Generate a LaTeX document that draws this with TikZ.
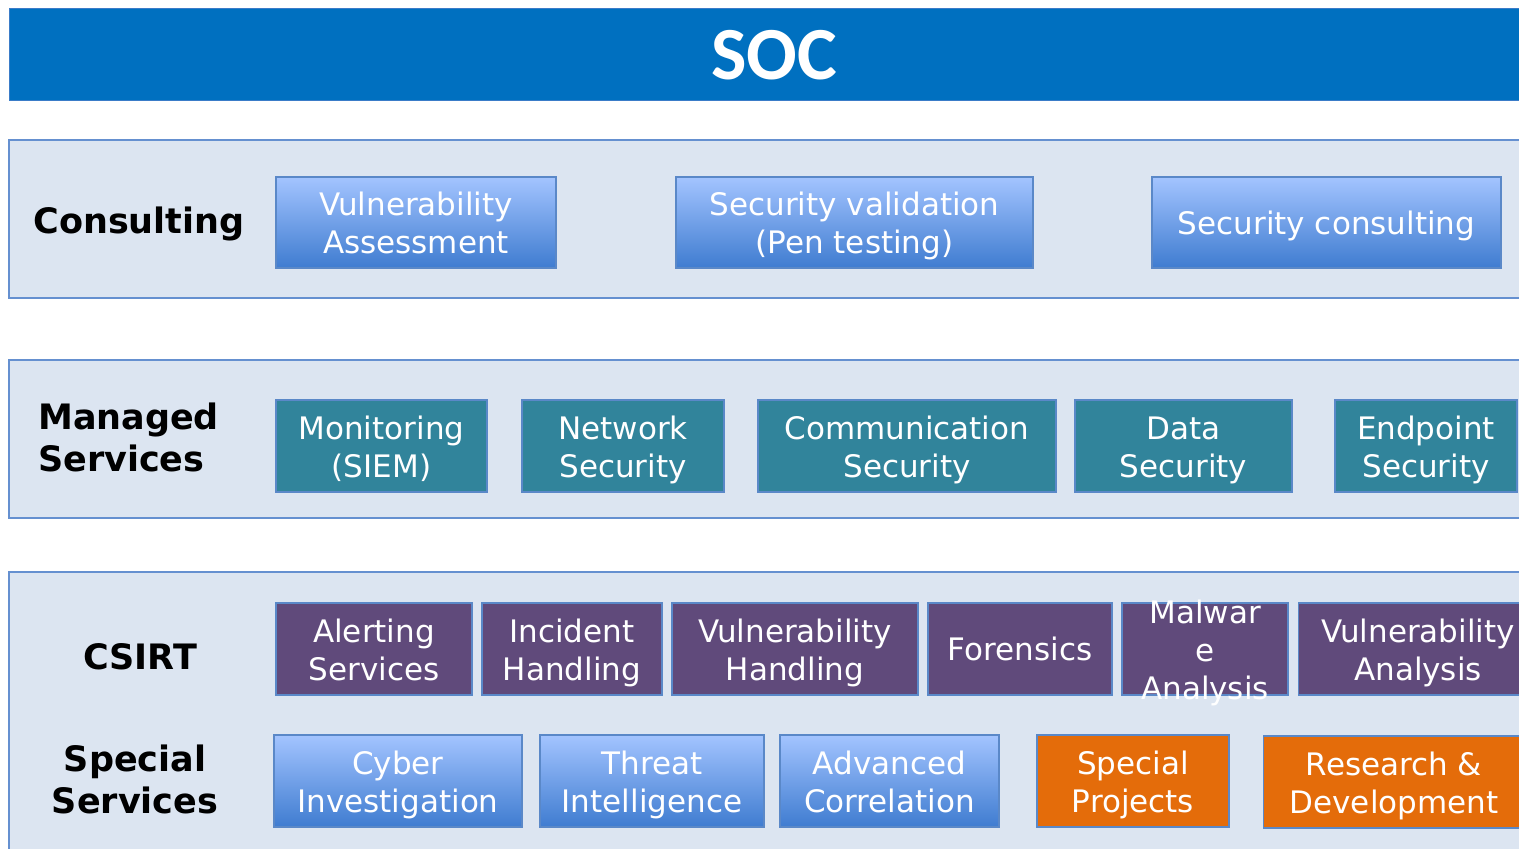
\documentclass[tikz,border=0pt]{standalone}
\usepackage{fontspec}
\setmainfont{DejaVu Sans}
\newfontfamily\titlefont{Carlito}
\definecolor{titleblue}{HTML}{0070C0}
\definecolor{titleline}{HTML}{3A7CC8}
\definecolor{panelfill}{HTML}{DCE5F1}
\definecolor{panelline}{HTML}{6590D0}
\definecolor{boxline}{HTML}{5A88C8}
\definecolor{gtop}{HTML}{A3C4FF}
\definecolor{gbot}{HTML}{3F7CD0}
\definecolor{tealfill}{HTML}{31849B}
\definecolor{purplefill}{HTML}{604A7B}
\definecolor{orangefill}{HTML}{E46C0A}
% text lines placed on fixed baselines relative to a box centre
\newcommand{\oneline}[3]{%
  \node[ltext,anchor=base] (#1-l1) at ([yshift=-11.5pt]#2) {#3};}
\newcommand{\twolines}[4]{%
  \node[ltext,anchor=base] (#1-l1) at ([yshift=7pt]#2) {#3};
  \node[ltext,anchor=base] (#1-l2) at ([yshift=-31pt]#2) {#4};}
\newcommand{\threelines}[5]{%
  \node[ltext,anchor=base] (#1-l1) at ([yshift=26pt]#2) {#3};
  \node[ltext,anchor=base] (#1-l2) at ([yshift=-12pt]#2) {#4};
  \node[ltext,anchor=base] (#1-l3) at ([yshift=-50pt]#2) {#5};}
\begin{document}
\begin{tikzpicture}[x=1pt,y=-1pt,
  panel/.style={fill=panelfill,draw=panelline,line width=1.2pt},
  grouplabel/.style={font=\bfseries\fontsize{35}{42}\selectfont,align=center,inner sep=0},
  box/.style={draw=boxline,line width=1.2pt,inner sep=0,minimum height=92pt},
  bluebox/.style={box,top color=gtop,bottom color=gbot},
  tealbox/.style={box,fill=tealfill},
  purplebox/.style={box,fill=purplefill},
  orangebox/.style={box,fill=orangefill},
  ltext/.style={text=white,inner sep=0,font=\fontsize{31}{38}\selectfont}]
\useasboundingbox (0,0) rectangle (1519,849);
\clip (0,0) rectangle (1519,849);
% title
\node[fill=titleblue,draw=titleline,line width=1.2pt,minimum width=1530pt,minimum height=92pt,anchor=north west,inner sep=0] (title) at (9,8) {};
\node[text=white,font=\titlefont\bfseries\fontsize{75}{75}\selectfont,inner sep=0] (soc) at (774,55) {SOC};
% panels
\draw[panel] (9,140) rectangle (1540,298);
\draw[panel] (9,360) rectangle (1540,518);
\draw[panel] (9,572) rectangle (1540,880);
% group labels
\node[grouplabel] (lcons) at (139,224) {Consulting};
\node[grouplabel,align=left,anchor=west] (lman) at (38,437.5) {Managed\\Services};
\node[grouplabel] (lcsirt) at (140,657) {CSIRT};
\node[grouplabel] (lspec) at (135,779) {Special\\Services};
% consulting
\node[bluebox,minimum width=280pt,minimum height=91pt] (va) at (416,222.5) {};
\node[bluebox,minimum width=357pt,minimum height=91pt] (sv) at (854.5,222.5) {};
\node[bluebox,minimum width=349pt,minimum height=91pt] (sc) at (1326.5,222.5) {};
\twolines{va}{va.center}{Vulnerability}{Assessment}
\twolines{sv}{sv.center}{Security validation}{(Pen testing)}
\oneline{sc}{sc.center}{Security consulting}
% managed services
\node[tealbox,minimum width=211pt] (mon) at (381.5,446) {};
\node[tealbox,minimum width=202pt] (net) at (623,446) {};
\node[tealbox,minimum width=298pt] (comm) at (907,446) {};
\node[tealbox,minimum width=217pt] (data) at (1183.5,446) {};
\node[tealbox,minimum width=182pt] (endp) at (1426,446) {};
\twolines{mon}{mon.center}{Monitoring}{(SIEM)}
\twolines{net}{net.center}{Network}{Security}
\twolines{comm}{comm.center}{Communication}{Security}
\twolines{data}{data.center}{Data}{Security}
\twolines{endp}{endp.center}{Endpoint}{Security}
% CSIRT
\node[purplebox,minimum width=196pt] (alert) at (374,649) {};
\node[purplebox,minimum width=180pt] (inc) at (572,649) {};
\node[purplebox,minimum width=246pt] (vh) at (795,649) {};
\node[purplebox,minimum width=184pt] (for) at (1020,649) {};
\node[purplebox,minimum width=166pt] (mal) at (1205,649) {};
\node[purplebox,minimum width=250pt,anchor=west] (van) at (1298,649) {};
\coordinate (vanc) at (1418,649);
\twolines{alert}{alert.center}{Alerting}{Services}
\twolines{inc}{inc.center}{Incident}{Handling}
\twolines{vh}{vh.center}{Vulnerability}{Handling}
\oneline{for}{for.center}{Forensics}
\threelines{mal}{mal.center}{Malwar}{e}{Analysis}
\twolines{van}{vanc}{Vulnerability}{Analysis}
% special services
\node[bluebox,minimum width=248pt] (cyber) at (398,781) {};
\node[bluebox,minimum width=224pt] (threat) at (652,781) {};
\node[bluebox,minimum width=219pt] (adv) at (889.5,781) {};
\node[orangebox,minimum width=192pt] (sp) at (1133,781) {};
\node[orangebox,minimum width=280pt,anchor=west] (rd) at (1263,782) {};
\coordinate (rdc) at (1394,782);
\twolines{cyber}{cyber.center}{Cyber}{Investigation}
\twolines{threat}{threat.center}{Threat}{Intelligence}
\twolines{adv}{adv.center}{Advanced}{Correlation}
\twolines{sp}{sp.center}{Special}{Projects}
\twolines{rd}{rdc}{Research \&}{Development}
\end{tikzpicture}
\end{document}
